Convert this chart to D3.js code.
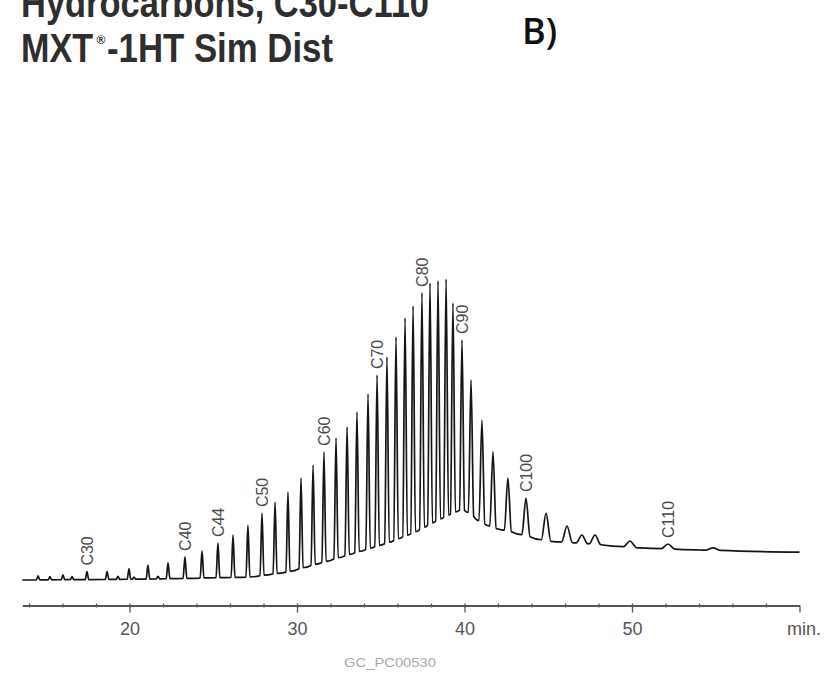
<!DOCTYPE html>
<html>
<head>
<meta charset="utf-8">
<script src="https://cdn.jsdelivr.net/npm/d3@7"></script>
<style>
  html, body { margin: 0; padding: 0; background: #fff; }
  svg { display: block; }
</style>
</head>
<body>
<svg id="chart" width="836" height="678"></svg>
<script>
// ---------------- DATA ----------------
// retention time (min) of each peak and its apex signal (arbitrary units, 0 = start baseline)
const peakTime = [14.54, 15.25, 16.03, 16.57, 17.46, 18.66, 19.31, 19.97, 20.27, 21.10, 21.70, 22.30,
  23.31, 24.33, 25.28, 26.18, 27.07, 27.91, 28.69, 29.46, 30.24, 30.96, 31.61, 32.33, 32.99, 33.58,
  34.24, 34.78, 35.37, 35.91, 36.45, 36.93, 37.46, 37.94, 38.42, 38.90, 39.31, 39.85, 40.39, 41.04,
  41.70, 42.59, 43.67, 44.87, 46.12, 47.01, 47.79, 49.88, 52.15, 54.84];
const peakApex = [1.4, 1.1, 1.7, 1.1, 2.8, 2.8, 1.2, 3.7, 1.0, 5.0, 1.2, 5.7,
  7.7, 9.7, 12.3, 15.0, 18.3, 22.3, 26.0, 29.3, 34.0, 38.3, 42.7, 47.3, 51.0, 56.0,
  62.0, 68.3, 74.3, 81.0, 87.3, 91.3, 95.7, 99.0, 99.7, 100.3, 92.3, 80.0, 66.7, 53.3,
  42.7, 34.0, 27.3, 22.3, 18.0, 15.0, 15.0, 13.0, 12.0, 10.7];

// baseline (unresolved hump) knots
const baseTime   = [13.6, 21.2, 27.2, 29.46, 31.61, 33.58, 35.37, 36.93, 38.42, 39.85, 40.39, 41.04, 42.0, 42.66, 43.73, 44.87, 46.9, 50.48, 54.06, 60.0];
const baseSignal = [0.0, 0.3, 1.0, 2.7, 6.0, 9.3, 12.3, 15.7, 20.0, 23.7, 22.0, 19.0, 17.0, 16.3, 14.7, 13.0, 12.3, 10.7, 10.0, 9.3];

// labelled n-alkanes
const labelNames = ["C30", "C40", "C44", "C50", "C60", "C70", "C80", "C90", "C100", "C110"];
const labelTimes = [17.46, 23.31, 25.28, 27.91, 31.61, 34.78, 37.46, 39.85, 43.67, 52.15];

// axis ticks
const majorTicks = [20, 30, 40, 50, 60];
const tickLabels = ["20", "30", "40", "50", "min."];
const minorTicks = d3.range(14, 60, 2);

// texts
const titleLine1 = "Hydrocarbons, C30-C110";
const titleLine2a = "MXT", titleReg = "®", titleLine2b = "-1HT Sim Dist";
const panelTag = "B)";
const codeText = "GC_PC00530";

// ---------------- DRAWING ----------------
const svg = d3.select("#chart");

const x = d3.scaleLinear().domain([13.6, 60]).range([22.3, 799.5]);
const y = d3.scaleLinear().domain([0, 100]).range([580, 280]);
const base = d3.scaleLinear().domain(baseTime).range(baseSignal).clamp(true);
const halfW = d3.scaleLinear().domain([14, 30, 40, 43, 46, 55]).range([0.1, 0.12, 0.15, 0.22, 0.32, 0.45]).clamp(true);

// build trace points
const pts = [];
const windows = [];
peakTime.forEach((t, i) => {
  const w = halfW(t);
  windows.push([t - w, t + w]);
  pts.push([t - w, base(t - w)]);
  pts.push([t, peakApex[i]]);
  pts.push([t + w, base(t + w)]);
});
baseTime.forEach((t, i) => {
  if (!windows.some(([a, b]) => t >= a && t <= b)) pts.push([t, baseSignal[i]]);
});
pts.sort((a, b) => a[0] - b[0]);

const line = d3.line().x(d => x(d[0])).y(d => y(d[1])).curve(d3.curveMonotoneX);

svg.append("path")
  .datum(pts)
  .attr("d", line)
  .attr("fill", "none")
  .attr("stroke", "#151515")
  .attr("stroke-width", 1.7)
  .attr("stroke-linejoin", "round");

// peak labels
const apexAt = t => peakApex[d3.minIndex(peakTime, p => Math.abs(p - t))];
svg.append("g").selectAll("text")
  .data(labelNames)
  .join("text")
  .attr("transform", (d, i) => `translate(${x(labelTimes[i])},${y(apexAt(labelTimes[i])) - 6}) rotate(-90)`)
  .attr("dy", "0.36em")
  .attr("text-anchor", "start")
  .attr("font-family", "'Liberation Sans', Arial, sans-serif")
  .attr("font-size", 16)
  .attr("fill", "#4a4a4a")
  .text(d => d);

// axis
const axisY = 605.5;
const gMinor = svg.append("g")
  .attr("transform", `translate(0,${axisY - 2})`)
  .call(d3.axisBottom(x).tickValues(minorTicks).tickSize(4).tickSizeOuter(0).tickFormat(""));
gMinor.select(".domain").remove();
gMinor.selectAll("line").attr("stroke", "#555").attr("stroke-width", 1.3);

const gMajor = svg.append("g")
  .attr("transform", `translate(0,${axisY})`)
  .call(d3.axisBottom(x).tickValues(majorTicks).tickSize(7).tickSizeOuter(0).tickPadding(10)
    .tickFormat((d, i) => tickLabels[i]));
gMajor.select(".domain").attr("stroke", "#555").attr("stroke-width", 2);
gMajor.selectAll("line").attr("stroke", "#555").attr("stroke-width", 1.3);
gMajor.selectAll("text")
  .attr("font-family", "'Liberation Sans', Arial, sans-serif")
  .attr("font-size", 18)
  .attr("fill", "#555");
gMajor.selectAll(".tick").filter(d => d === 60).select("text").attr("dx", 4);

// code text below axis
svg.append("text")
  .attr("x", 390).attr("y", 667)
  .attr("text-anchor", "middle")
  .attr("font-family", "'Liberation Sans', Arial, sans-serif")
  .attr("font-size", 13)
  .attr("fill", "#aaaaaa")
  .attr("textLength", 92).attr("lengthAdjust", "spacingAndGlyphs")
  .text(codeText);

// titles
const titleFont = "'Liberation Sans', Arial, sans-serif";
svg.append("text")
  .attr("x", 21).attr("y", 17)
  .attr("font-family", titleFont)
  .attr("font-weight", 700)
  .attr("font-size", 40)
  .attr("fill", "#2e2e2e")
  .attr("textLength", 408).attr("lengthAdjust", "spacingAndGlyphs")
  .text(titleLine1);

svg.append("text")
  .attr("x", 21).attr("y", 62)
  .attr("font-family", titleFont)
  .attr("font-weight", 700)
  .attr("font-size", 40)
  .attr("fill", "#2e2e2e")
  .attr("textLength", 72).attr("lengthAdjust", "spacingAndGlyphs")
  .text(titleLine2a);

svg.append("text")
  .attr("x", 96.5).attr("y", 44)
  .attr("font-family", titleFont)
  .attr("font-weight", 700)
  .attr("font-size", 12)
  .attr("fill", "#2e2e2e")
  .text(titleReg);

svg.append("text")
  .attr("x", 107).attr("y", 62)
  .attr("font-family", titleFont)
  .attr("font-weight", 700)
  .attr("font-size", 40)
  .attr("fill", "#2e2e2e")
  .attr("textLength", 226).attr("lengthAdjust", "spacingAndGlyphs")
  .text(titleLine2b);

svg.append("text")
  .attr("x", 522).attr("y", 44)
  .attr("font-family", "'Open Sans', 'Noto Sans', sans-serif")
  .attr("font-weight", 600)
  .attr("font-size", 36)
  .attr("fill", "#111")
  .text(panelTag);
</script>
</body>
</html>
